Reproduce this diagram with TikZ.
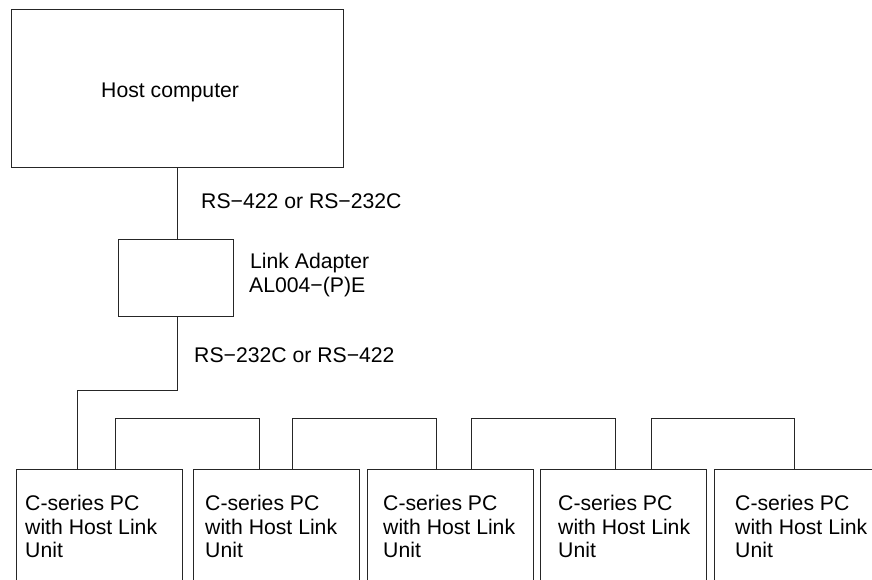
\documentclass[tikz,border=0pt]{standalone}
\usepackage{fontspec}
\setmainfont{Liberation Sans}
\begin{document}
\begin{tikzpicture}[x=1pt,y=-1pt,
  box/.style={draw=black!85,line width=0.9pt,rectangle,inner sep=0pt},
  pcbox/.style={box,anchor=north west,minimum width=166pt,minimum height=140pt},
  lbl/.style={inner sep=0pt,anchor=base west,font=\fontsize{21.2}{24}\selectfont},
  wire/.style={draw=black!85,line width=0.9pt}]
\useasboundingbox (0,0) rectangle (872,579);
% host computer
\node[box,minimum width=332pt,minimum height=158pt] (host) at (177,88) {};
\node[lbl] (hostt) at (101,97) {Host computer};
% link adapter
\node[box,minimum width=115pt,minimum height=77pt] (adp) at (175.5,277.5) {};
\node[lbl] (adpt1) at (250,268) {Link Adapter};
\node[lbl] (adpt2) at (249,292) {AL004−(P)E};
\node[lbl] (rs1) at (201,208) {RS−422 or RS−232C};
\node[lbl] (rs2) at (194,362) {RS−232C or RS−422};
% PCs
\foreach \i/\x/\t in {1/16/25,2/193/205,3/367/383,4/540/558,5/714/735}{
  \node[pcbox] (p\i) at (\x,469) {};
  \node[lbl] (p\i a) at (\t,510) {C-series PC};
  \node[lbl] (p\i b) at (\t,534) {with Host Link};
  \node[lbl] (p\i c) at (\t,557) {Unit};
}
% connectors
\coordinate (ha) at (177,0);
\draw[wire] (host.south -| ha) -- (adp.north -| ha);
\coordinate (j1) at (77,390);
\draw[wire] (adp.south -| ha) -- (ha |- j1) -- (j1) -- (p1.north -| j1);
\foreach \a/\b/\xa/\xb in {1/2/115/259,2/3/292/436,3/4/471/615,4/5/651/794}{
  \coordinate (la\a) at (\xa,418);
  \coordinate (lb\a) at (\xb,418);
  \draw[wire] (p\a.north -| la\a) -- (la\a) -- (lb\a) -- (p\b.north -| lb\a);
}
\end{tikzpicture}
\end{document}
